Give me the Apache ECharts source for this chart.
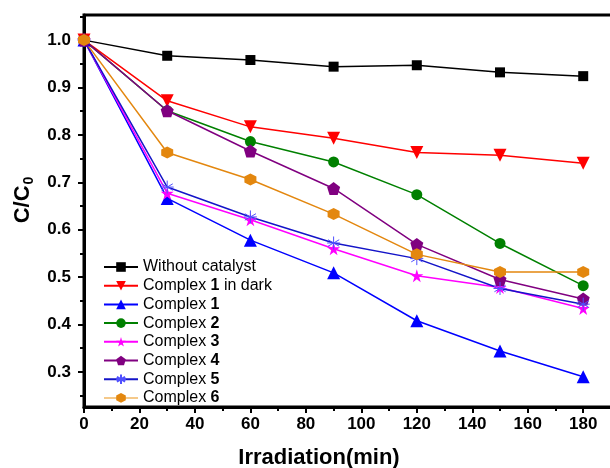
<!DOCTYPE html>
<html>
<head>
<meta charset="utf-8">
<script src="https://cdn.jsdelivr.net/npm/echarts@6/dist/echarts.min.js"></script>
<style>
  html, body { margin: 0; padding: 0; background: #fff; }
  #chart { width: 610px; height: 468px; }
</style>
</head>
<body>
<div id="chart"></div>
<script>
'use strict';

// irradiation time (min)
var times = [0, 30, 60, 90, 120, 150, 180];

// C/C0
var withoutCatalyst = [1.0, 0.967, 0.958, 0.944, 0.947, 0.932, 0.924];
var complex1Dark    = [1.0, 0.872, 0.817, 0.793, 0.763, 0.757, 0.740];
var complex1        = [1.0, 0.666, 0.578, 0.509, 0.408, 0.344, 0.290];
var complex2        = [1.0, 0.851, 0.786, 0.743, 0.674, 0.571, 0.482];
var complex3        = [1.0, 0.677, 0.621, 0.560, 0.503, 0.478, 0.434];
var complex4        = [1.0, 0.851, 0.766, 0.687, 0.569, 0.495, 0.454];
var complex5        = [1.0, 0.690, 0.627, 0.572, 0.539, 0.476, 0.443];
var complex6        = [1.0, 0.763, 0.706, 0.633, 0.548, 0.511, 0.511];

// axis ticks
var xMajor = [0, 20, 40, 60, 80, 100, 120, 140, 160, 180];
var xMinor = [10, 30, 50, 70, 90, 110, 130, 150, 170];
var yMajor = [0.3, 0.4, 0.5, 0.6, 0.7, 0.8, 0.9, 1.0];
var yMinor = [0.25, 0.35, 0.45, 0.55, 0.65, 0.75, 0.85, 0.95, 1.05];

var FONT = 'Arial, "Liberation Sans", sans-serif';

var STAR = 'path://M50,0 L61,35 L98,35 L68,57 L79,91 L50,70 L21,91 L32,57 L2,35 L39,35 Z';
var PENTAGON = 'path://M50,0 L98,36 L80,95 L20,95 L2,36 Z';
var ASTERISK = 'path://M50,0 L50,100 M7,25 L93,75 M7,75 L93,25 M0,50 L100,50';
var HEXAGON = 'path://M50,0 L93,25 L93,75 L50,100 L7,75 L7,25 Z';

function pairs(values) {
    return times.map(function (t, i) { return [t, values[i]]; });
}

function makeSeries(name, values, color, symbol, size, extra) {
    var s = {
        name: name,
        type: 'line',
        data: pairs(values),
        symbol: symbol,
        symbolSize: size,
        showAllSymbol: true,
        lineStyle: { color: color, width: 1.5 },
        itemStyle: { color: color },
        emphasis: { disabled: true },
        animation: false
    };
    if (extra) {
        Object.keys(extra).forEach(function (k) { s[k] = extra[k]; });
    }
    return s;
}

var series = [
    makeSeries('Without catalyst', withoutCatalyst, '#000000', 'rect', 10),
    makeSeries('Complex 1 in dark', complex1Dark, '#ff0000', 'triangle', 13, { symbolRotate: 180 }),
    makeSeries('Complex 1', complex1, '#0000ff', 'triangle', 13),
    makeSeries('Complex 2', complex2, '#008000', 'circle', 11),
    makeSeries('Complex 3', complex3, '#ff00ff', STAR, 13),
    makeSeries('Complex 4', complex4, '#800080', PENTAGON, 13),
    makeSeries('Complex 5', complex5, '#1414c8', ASTERISK, 13, {
        itemStyle: { color: '#5050ff', borderColor: '#5050ff', borderWidth: 1 }
    }),
    makeSeries('Complex 6', complex6, '#e3870f', HEXAGON, 12)
];

var legendNames = series.map(function (s) {
    if (s.name === 'Complex 6') {
        return { name: s.name, lineStyle: { color: '#f5c98a' } };
    }
    return { name: s.name };
});

var chart = echarts.init(document.getElementById('chart'), null, { renderer: 'canvas' });

chart.setOption({
    backgroundColor: '#ffffff',
    animation: false,
    grid: {
        left: 84, top: 15, width: 530, height: 392,
        outerBoundsMode: 'none',
        show: true, borderColor: '#000', borderWidth: 3, backgroundColor: 'transparent'
    },
    legend: {
        left: 98, top: 254,
        orient: 'vertical',
        itemWidth: 34, itemHeight: 12, itemGap: 2.7,
        data: legendNames,
        textStyle: {
            fontFamily: FONT, fontSize: 16, color: '#000', lineHeight: 16,
            rich: {
                n: { fontFamily: FONT, fontSize: 16, color: '#000', lineHeight: 16 },
                b: { fontFamily: FONT, fontSize: 16, color: '#000', fontWeight: 'bold', lineHeight: 16 }
            }
        },
        formatter: function (name) {
            var m = name.match(/^Complex (\d)(.*)$/);
            if (!m) { return '{n|' + name + '}'; }
            return '{n|Complex }{b|' + m[1] + '}' + (m[2] ? '{n|' + m[2] + '}' : '');
        }
    },
    xAxis: [{
        type: 'value', min: 0, max: 191.1,
        axisLine: { show: true, lineStyle: { color: '#000', width: 3 } },
        axisTick: { show: true, customValues: xMajor, length: 6, lineStyle: { color: '#000', width: 2 } },
        axisLabel: {
            customValues: xMajor, margin: 9,
            fontFamily: FONT, fontSize: 17, fontWeight: 'bold', color: '#000'
        },
        splitLine: { show: false }
    }, {
        type: 'value', min: 0, max: 191.1, position: 'bottom',
        axisLine: { show: false },
        axisTick: { show: true, customValues: xMinor, length: 4, lineStyle: { color: '#000', width: 2 } },
        axisLabel: { show: false },
        splitLine: { show: false }
    }],
    yAxis: [{
        type: 'value', min: 0.226, max: 1.053,
        axisLine: { show: true, lineStyle: { color: '#000', width: 3 } },
        axisTick: { show: true, customValues: yMajor, length: 6, lineStyle: { color: '#000', width: 2 } },
        axisLabel: {
            customValues: yMajor, margin: 13,
            formatter: function (v) { return v.toFixed(1); },
            fontFamily: FONT, fontSize: 17, fontWeight: 'bold', color: '#000'
        },
        splitLine: { show: false }
    }, {
        type: 'value', min: 0.226, max: 1.053, position: 'left',
        axisLine: { show: false },
        axisTick: { show: true, customValues: yMinor, length: 4, lineStyle: { color: '#000', width: 2 } },
        axisLabel: { show: false },
        splitLine: { show: false }
    }],
    graphic: [{
        type: 'text',
        x: 319, y: 458,
        style: {
            text: 'Irradiation(min)',
            font: 'bold 22px ' + FONT,
            fill: '#000',
            textAlign: 'center',
            textVerticalAlign: 'middle'
        }
    }, {
        type: 'text',
        x: 23, y: 200,
        rotation: Math.PI / 2,
        style: {
            text: '{a|C/C}{s|0}',
            fill: '#000',
            textAlign: 'center',
            textVerticalAlign: 'middle',
            rich: {
                a: { fontFamily: FONT, fontSize: 22, fontWeight: 'bold', fill: '#000' },
                s: { fontFamily: FONT, fontSize: 14, fontWeight: 'bold', fill: '#000', padding: [12, 0, 0, 1] }
            }
        }
    }],
    series: series
});
</script>
</body>
</html>
